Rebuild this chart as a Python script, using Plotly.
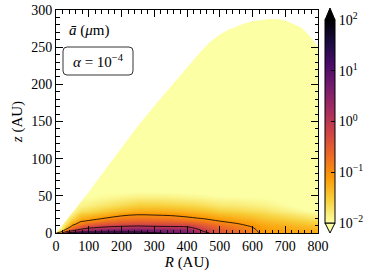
import numpy as np
import plotly.graph_objects as go

# ---------------- data ----------------
R_nodes = [0, 15, 30, 50, 75, 100, 150, 200, 250, 300, 350, 400, 450, 500,
           550, 600, 625, 650, 700, 750, 800]
z_nodes = [0, 1.5, 3, 5, 7, 9, 12, 16, 20, 25, 30, 38, 48, 60, 80, 120, 300]

# log10(a_bar / um), one list per R node, values at z_nodes
log_a_by_R = [
    [-1.0, -1.6, -1.9, -2.0, -2.0, -2.0, -2.0, -2.0, -2.0, -2.0, -2.0, -2.0, -2.0, -2.0, -2.0, -2.0, -2.0],
    [-0.3, -1.0, -1.5, -1.8, -1.95, -2.0, -2.0, -2.0, -2.0, -2.0, -2.0, -2.0, -2.0, -2.0, -2.0, -2.0, -2.0],
    [1.0, 0.1, -0.5, -1.0, -1.3, -1.5, -1.7, -1.85, -1.95, -2.0, -2.0, -2.0, -2.0, -2.0, -2.0, -2.0, -2.0],
    [1.3, 0.8, 0.0, -0.35, -0.65, -0.9, -1.15, -1.45, -1.65, -1.85, -1.97, -2.0, -2.0, -2.0, -2.0, -2.0, -2.0],
    [1.4, 0.95, 0.5, 0.0, -0.3, -0.5, -0.8, -1.05, -1.3, -1.5, -1.7, -1.9, -2.0, -2.0, -2.0, -2.0, -2.0],
    [1.5, 0.95, 0.65, 0.2, -0.05, -0.3, -0.6, -0.95, -1.2, -1.45, -1.65, -1.85, -2.0, -2.0, -2.0, -2.0, -2.0],
    [1.6, 0.95, 0.75, 0.45, 0.12, -0.1, -0.4, -0.75, -1.0, -1.3, -1.5, -1.75, -1.95, -2.05, -2.0, -2.0, -2.0],
    [1.6, 0.95, 0.8, 0.55, 0.25, 0.0, -0.3, -0.6, -0.85, -1.1, -1.35, -1.65, -1.9, -2.1, -2.0, -2.0, -2.0],
    [1.6, 0.95, 0.8, 0.55, 0.3, 0.05, -0.25, -0.55, -0.8, -1.02, -1.25, -1.55, -1.85, -2.1, -2.0, -2.0, -2.0],
    [1.05, 0.85, 0.75, 0.5, 0.25, 0.0, -0.28, -0.57, -0.82, -1.04, -1.25, -1.55, -1.85, -2.1, -2.0, -2.0, -2.0],
    [0.95, 0.8, 0.65, 0.45, 0.2, -0.03, -0.3, -0.6, -0.85, -1.07, -1.28, -1.58, -1.87, -2.1, -2.0, -2.0, -2.0],
    [0.8, 0.7, 0.55, 0.35, 0.15, -0.07, -0.35, -0.68, -0.93, -1.15, -1.35, -1.62, -1.9, -2.1, -2.0, -2.0, -2.0],
    [0.2, 0.05, -0.05, -0.15, -0.28, -0.4, -0.58, -0.82, -1.04, -1.25, -1.42, -1.68, -1.93, -2.1, -2.0, -2.0, -2.0],
    [-0.35, -0.4, -0.45, -0.52, -0.6, -0.68, -0.8, -1.0, -1.18, -1.38, -1.55, -1.78, -1.98, -2.1, -2.0, -2.0, -2.0],
    [-0.6, -0.63, -0.67, -0.72, -0.78, -0.85, -0.96, -1.12, -1.28, -1.45, -1.6, -1.8, -1.98, -2.1, -2.0, -2.0, -2.0],
    [-0.85, -0.87, -0.9, -0.94, -0.98, -1.03, -1.12, -1.25, -1.38, -1.53, -1.67, -1.85, -2.0, -2.1, -2.0, -2.0, -2.0],
    [-1.05, -1.06, -1.08, -1.1, -1.13, -1.17, -1.23, -1.33, -1.45, -1.58, -1.7, -1.87, -2.0, -2.1, -2.0, -2.0, -2.0],
    [-1.1, -1.11, -1.13, -1.15, -1.18, -1.22, -1.28, -1.38, -1.5, -1.63, -1.75, -1.9, -2.02, -2.1, -2.0, -2.0, -2.0],
    [-1.15, -1.16, -1.18, -1.2, -1.24, -1.28, -1.35, -1.46, -1.58, -1.72, -1.85, -1.98, -2.05, -2.05, -2.0, -2.0, -2.0],
    [-1.2, -1.21, -1.23, -1.26, -1.3, -1.35, -1.43, -1.55, -1.68, -1.82, -1.95, -2.05, -2.05, -2.0, -2.0, -2.0, -2.0],
    [-1.25, -1.26, -1.28, -1.31, -1.36, -1.42, -1.52, -1.65, -1.78, -1.92, -2.03, -2.08, -2.03, -2.0, -2.0, -2.0, -2.0],
]

# upper edge of the computed domain (R, z) in AU
edge_R = [0, 50, 100, 150, 200, 250, 300, 350, 400, 440, 470, 500, 525, 550,
          575, 600, 625, 650, 675, 700, 725, 750, 775, 790, 800]
edge_z = [0, 27, 55, 85, 114, 144, 171, 197, 222, 243, 257, 267, 273, 278,
          282, 285, 287, 288, 288, 286, 281, 276, 265, 255, 250]

contour_levels = [-1, 0, 1]          # log10 of 0.1, 1, 10 um
cbar_decades = [-2, -1, 0, 1, 2]
cbar_labels = ["10<sup>\u22122</sup>", "10<sup>\u22121</sup>", "10<sup>0</sup>",
               "10<sup>1</sup>", "10<sup>2</sup>"]
cbar_minor_step = 0.25

# ---------------- figure ----------------
W, H = 374, 280
L, Rr, T, B = 56, 318, 10, 233
FONT = "Liberation Serif"
FS = 14


def px(x):
    return (x - L) / (Rr - L)


def py(y):
    return (B - y) / (B - T)


grid = np.array(log_a_by_R).T  # rows = z, cols = R

fig = go.Figure()
cb_y0, cb_y1 = 223, 20
cb_x0, cb_x1 = 325, 335

fig.add_trace(go.Heatmap(
    x=R_nodes, y=z_nodes, z=grid, zsmooth="best",
    colorscale="Inferno_r", zmin=-2, zmax=2, hoverinfo="skip",
    colorbar=dict(
        x=px(cb_x0), xanchor="left", xpad=0, ypad=0,
        y=py(cb_y0), yanchor="bottom", len=(cb_y0 - cb_y1) / (B - T), lenmode="fraction",
        thickness=cb_x1 - cb_x0, thicknessmode="pixels",
        outlinewidth=1, outlinecolor="black",
        tickmode="array", tickvals=cbar_decades, ticktext=cbar_labels,
        ticks="inside", ticklen=4, tickcolor="black", tickwidth=1,
        tickfont=dict(family=FONT, size=FS, color="black"),
    ),
))

fig.add_trace(go.Contour(
    x=R_nodes, y=z_nodes, z=grid, showscale=False, hoverinfo="skip",
    contours=dict(start=contour_levels[0], end=contour_levels[-1], size=1, coloring="none"),
    line=dict(color="black", width=0.8, smoothing=1),
))

# white region above the domain edge
fig.add_trace(go.Scatter(
    x=edge_R + [800, 0], y=edge_z + [305, 305], mode="lines",
    fill="toself", fillcolor="white", line=dict(width=0, color="white"),
    hoverinfo="skip", showlegend=False,
))

axis_common = dict(showline=True, linecolor="black", linewidth=1, mirror="ticks",
                   ticks="inside", ticklen=7, tickwidth=1, tickcolor="black",
                   showgrid=False, zeroline=False, automargin=False,
                   ticklabeloverflow="allow",
                   tickfont=dict(family=FONT, size=FS, color="black"))
fig.update_xaxes(range=[0, 800], dtick=100, tick0=0,
                 minor=dict(ticks="inside", dtick=20, ticklen=3.5, tickcolor="black", showgrid=False),
                 title=dict(text="<i>R</i> (AU)", font=dict(family=FONT, size=FS + 1, color="black"), standoff=2),
                 **axis_common)
fig.update_yaxes(range=[0, 300], dtick=50, tick0=0,
                 minor=dict(ticks="inside", dtick=10, ticklen=3.5, tickcolor="black", showgrid=False),
                 title=dict(text="<i>z</i> (AU)", font=dict(family=FONT, size=FS + 1, color="black"), standoff=4),
                 **axis_common)

shapes = []
# colorbar extension triangles
shapes.append(dict(type="path", xref="paper", yref="paper",
                   path=f"M {px(cb_x0)},{py(cb_y1)} L {px(cb_x1)},{py(cb_y1)} L {px((cb_x0+cb_x1)/2)},{py(8)} Z",
                   fillcolor="#000004", line=dict(color="black", width=1)))
shapes.append(dict(type="path", xref="paper", yref="paper",
                   path=f"M {px(cb_x0)},{py(cb_y0)} L {px(cb_x1)},{py(cb_y0)} L {px((cb_x0+cb_x1)/2)},{py(233)} Z",
                   fillcolor="#fcffa4", line=dict(color="black", width=1)))


def cb_ypix(v):
    return cb_y0 - (v + 2) / 4 * (cb_y0 - cb_y1)


# contour lines marked on colorbar
for lv in contour_levels:
    shapes.append(dict(type="line", xref="paper", yref="paper",
                       x0=px(cb_x0), x1=px(cb_x1), y0=py(cb_ypix(lv)), y1=py(cb_ypix(lv)),
                       line=dict(color="black", width=1)))
# minor colorbar ticks (level boundaries)
for v in np.arange(-2, 2.001, cbar_minor_step):
    if abs(v - round(v)) < 1e-9:
        continue
    shapes.append(dict(type="line", xref="paper", yref="paper",
                       x0=px(cb_x1 - 4), x1=px(cb_x1), y0=py(cb_ypix(v)), y1=py(cb_ypix(v)),
                       line=dict(color="black", width=1)))
# rounded box around alpha label
bx0, bx1, by0, by1, rr = 63, 133, 47, 75, 4
path = (f"M {px(bx0+rr)},{py(by0)} L {px(bx1-rr)},{py(by0)} Q {px(bx1)},{py(by0)} {px(bx1)},{py(by0+rr)} "
        f"L {px(bx1)},{py(by1-rr)} Q {px(bx1)},{py(by1)} {px(bx1-rr)},{py(by1)} "
        f"L {px(bx0+rr)},{py(by1)} Q {px(bx0)},{py(by1)} {px(bx0)},{py(by1-rr)} "
        f"L {px(bx0)},{py(by0+rr)} Q {px(bx0)},{py(by0)} {px(bx0+rr)},{py(by0)} Z")
shapes.append(dict(type="path", xref="paper", yref="paper", path=path,
                   fillcolor="white", line=dict(color="black", width=0.8)))

fig.update_layout(
    width=W, height=H, margin=dict(l=L, r=W - Rr, t=T, b=H - B, autoexpand=False),
    paper_bgcolor="white", plot_bgcolor="white", showlegend=False,
    font=dict(family=FONT, size=FS, color="black"),
    shapes=shapes,
    annotations=[
        dict(text="<i>\u0101</i> (<i>\u03bc</i>m)", xref="paper", yref="paper",
             x=px(67), y=py(30), xanchor="left", yanchor="middle", showarrow=False,
             font=dict(family=FONT, size=FS + 1, color="black")),
        dict(text="<i>\u03b1</i> = 10<sup>\u22124</sup>", xref="paper", yref="paper",
             x=px(98), y=py(61), xanchor="center", yanchor="middle", showarrow=False,
             font=dict(family=FONT, size=FS + 1, color="black")),
    ],
)

fig.write_html("out.html", config={"displayModeBar": False},
               post_script="document.body.style.margin='0px';")
